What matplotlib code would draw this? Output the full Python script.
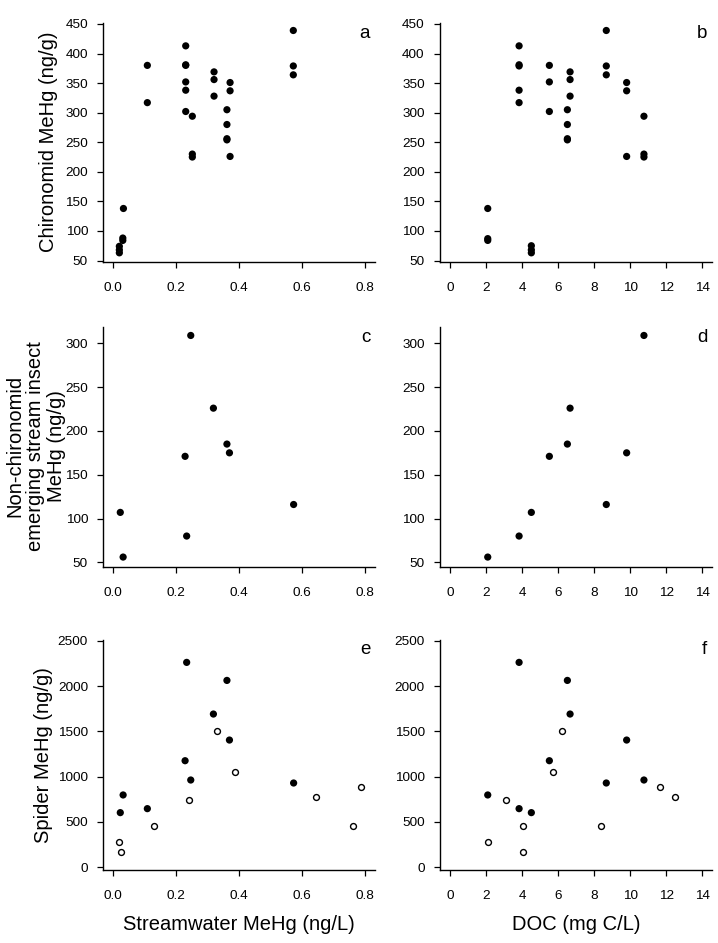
import numpy as np
import matplotlib
matplotlib.use("Agg")
import matplotlib.pyplot as plt

plt.rcParams["font.family"] = ["Liberation Sans", "DejaVu Sans"]

# ============================================================
# Data
# ============================================================

# chironomids vs streamwater MeHg (panel a)
chiro_sw_x = [0.019, 0.019, 0.019, 0.030, 0.030, 0.032,
              0.108, 0.108,
              0.230, 0.230, 0.230, 0.230, 0.230, 0.230,
              0.251, 0.251, 0.251,
              0.320, 0.320, 0.320,
              0.371, 0.371, 0.361, 0.361, 0.361, 0.361, 0.371,
              0.572, 0.572, 0.572]
chiro_sw_y = [63, 68, 74, 84, 88, 138,
              380, 317,
              413, 380, 381, 352, 338, 302,
              294, 230, 225,
              369, 356, 328,
              351, 337, 305, 280, 256, 254, 226,
              439, 379, 364]

# chironomids vs DOC (panel b)
chiro_doc_x = [2.09, 2.09, 2.09,
               3.83, 3.83, 3.83, 3.83, 3.83,
               4.51, 4.51, 4.51,
               5.51, 5.51, 5.51,
               6.66, 6.66, 6.66,
               6.51, 6.51, 6.51, 6.51,
               8.67, 8.67, 8.67,
               9.80, 9.80, 9.80,
               10.76, 10.76, 10.76]
chiro_doc_y = [138, 87, 84,
               413, 381, 379, 338, 317,
               75, 68, 63,
               380, 352, 302,
               369, 356, 328,
               305, 280, 256, 254,
               439, 379, 364,
               351, 337, 226,
               294, 230, 225]

# non-chironomid insects (panels c, d)
insect_sw_x = [0.022, 0.031, 0.228, 0.233, 0.246, 0.318, 0.361, 0.369, 0.573]
insect_doc_x = [4.51, 2.09, 5.51, 3.83, 10.76, 6.66, 6.51, 9.80, 8.67]
insect_y = [107, 56, 171, 80, 309, 226, 185, 175, 116]

# spiders, filled symbols (panels e, f)
spider_fill_sw_x = [0.233, 0.361, 0.318, 0.369, 0.228, 0.246, 0.573, 0.031, 0.108, 0.022]
spider_fill_doc_x = [3.83, 6.51, 6.66, 9.80, 5.51, 10.76, 8.67, 2.09, 3.83, 4.51]
spider_fill_y = [2261, 2062, 1691, 1404, 1176, 963, 930, 798, 647, 603]

# spiders, open symbols (panels e, f)
spider_open_sw_x = [0.331, 0.386, 0.240, 0.645, 0.786, 0.761, 0.130, 0.019, 0.024]
spider_open_doc_x = [6.23, 5.73, 3.09, 12.50, 11.65, 8.36, 4.07, 2.09, 4.07]
spider_open_y = [1503, 1055, 746, 772, 890, 460, 456, 276, 165]

sw_ticks = [0.0, 0.2, 0.4, 0.6, 0.8]
doc_ticks = [0, 2, 4, 6, 8, 10, 12, 14]

# ============================================================
# Layout (pixels -> figure fractions)
# ============================================================

W, H = 718, 943
fig = plt.figure(figsize=(W / 100, H / 100), dpi=100)


def add_axes(left, right, top, bottom):
    return fig.add_axes([left / W, 1 - bottom / H, (right - left) / W, (bottom - top) / H])


cols = [(103.3, 375.1), (440.0, 712.4)]
rows = [(22.8, 261.7), (326.7, 566.7), (640.0, 870.0)]

axes = [[add_axes(c[0], c[1], r[0], r[1]) for c in cols] for r in rows]


def style(ax, xticks, xlim, yticks, ylim, fmt):
    ax.set_xlim(*xlim)
    ax.set_ylim(*ylim)
    ax.set_xticks(xticks)
    ax.set_xticklabels([fmt % t for t in xticks])
    ax.set_yticks(yticks)
    for side in ("top", "right"):
        ax.spines[side].set_visible(False)
    for side in ("left", "bottom"):
        ax.spines[side].set_linewidth(1.0)
    ax.tick_params(axis="both", direction="out", length=4.5, width=0.9, labelsize=9.7)
    ax.tick_params(axis="x", pad=10)
    ax.tick_params(axis="y", pad=6.5)


filled = dict(s=27, color="black", edgecolors="none", zorder=3)
hollow = dict(s=18, facecolors="white", edgecolors="black", linewidths=1.0, zorder=3)

sw_lim = (-0.032, 0.832)
doc_lim = (-0.56, 14.56)

# ---- row 1 ----
ax = axes[0][0]
ax.scatter(chiro_sw_x, chiro_sw_y, **filled)
style(ax, sw_ticks, sw_lim, range(50, 451, 50), (48, 452), "%.1f")
ax = axes[0][1]
ax.scatter(chiro_doc_x, chiro_doc_y, **filled)
style(ax, doc_ticks, doc_lim, range(50, 451, 50), (48, 452), "%d")

# ---- row 2 ----
ax = axes[1][0]
ax.scatter(insect_sw_x, insect_y, **filled)
style(ax, sw_ticks, sw_lim, range(50, 301, 50), (45, 319), "%.1f")
ax = axes[1][1]
ax.scatter(insect_doc_x, insect_y, **filled)
style(ax, doc_ticks, doc_lim, range(50, 301, 50), (45, 319), "%d")

# ---- row 3 ----
ax = axes[2][0]
ax.scatter(spider_fill_sw_x, spider_fill_y, **filled)
ax.scatter(spider_open_sw_x, spider_open_y, **hollow)
style(ax, sw_ticks, sw_lim, range(0, 2501, 500), (-30, 2508), "%.1f")
ax = axes[2][1]
ax.scatter(spider_fill_doc_x, spider_fill_y, **filled)
ax.scatter(spider_open_doc_x, spider_open_y, **hollow)
style(ax, doc_ticks, doc_lim, range(0, 2501, 500), (-30, 2508), "%d")

# panel letters
for letter, ax in zip("abcdef", [a for r in axes for a in r]):
    ax.text(0.982, 0.937, letter, transform=ax.transAxes, ha="right",
            va="baseline", fontsize=13.5)

# ============================================================
# Axis titles
# ============================================================

lab = dict(rotation=90, ha="center", va="center", fontsize=14.5)
fig.text(49 / W, 1 - 142 / H, "Chironomid MeHg (ng/g)", **lab)
fig.text(36 / W, 1 - 446 / H, "Non-chironomid\nemerging stream insect\nMeHg (ng/g)",
         multialignment="center", linespacing=1.12, **lab)
fig.text(44 / W, 1 - 755 / H, "Spider MeHg (ng/g)", **lab)

fig.text(239 / W, 1 - 924 / H, "Streamwater MeHg (ng/L)", ha="center", va="center", fontsize=14.5)
fig.text(576 / W, 1 - 924 / H, "DOC (mg C/L)", ha="center", va="center", fontsize=14.5)

fig.savefig("out.png", dpi=100)
